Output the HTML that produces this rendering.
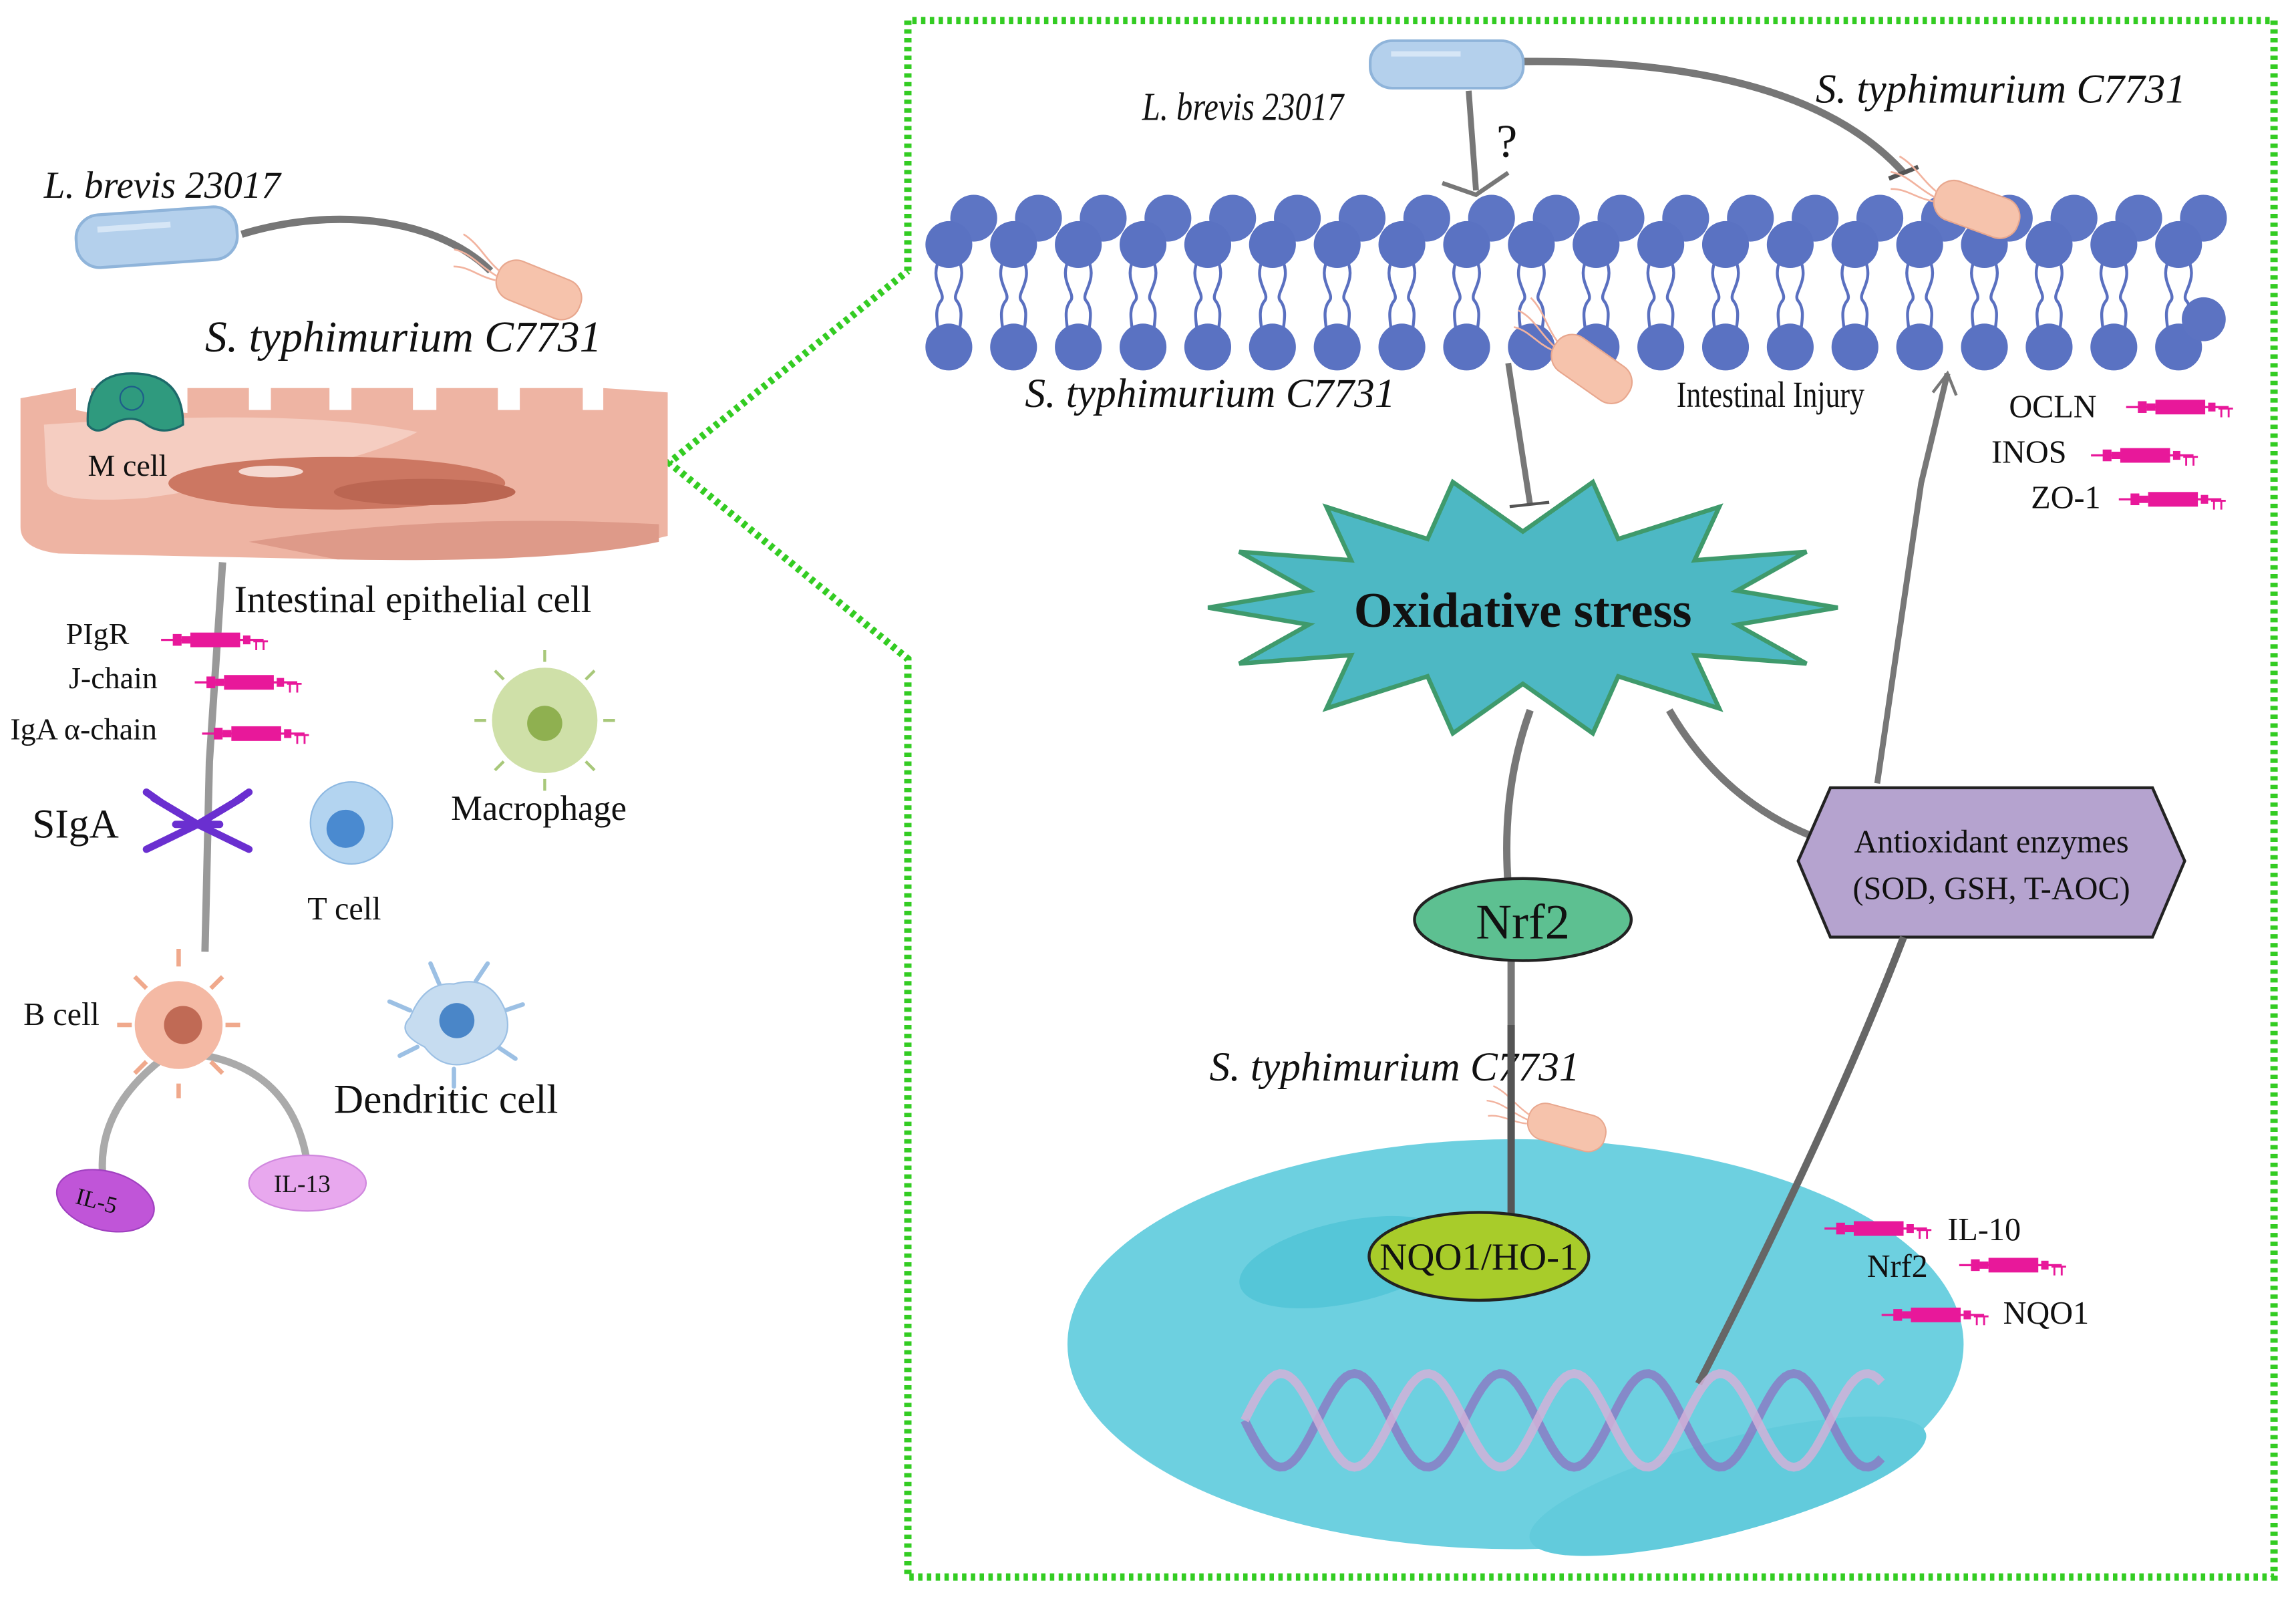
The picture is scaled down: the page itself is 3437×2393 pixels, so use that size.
<!DOCTYPE html>
<html><head><meta charset="utf-8"><style>
html,body{margin:0;padding:0;background:#fff}
svg{display:block}
text{font-family:"Liberation Serif",serif;fill:#111}
.it{font-style:italic}
</style></head><body>
<svg id="s" width="3437" height="2393" viewBox="0 0 1568 1092" preserveAspectRatio="none" xmlns="http://www.w3.org/2000/svg">
<defs>
<g id="gene">
<line x1="0" y1="0" x2="70" y2="0" stroke="#e8189a" stroke-width="1.5"/>
<rect x="8" y="-4" width="6" height="8" fill="#e8189a"/>
<rect x="14" y="-2.5" width="6" height="5" fill="#e8189a"/>
<rect x="20" y="-5" width="34" height="10" fill="#e8189a"/>
<rect x="56" y="-3" width="5" height="6" fill="#e8189a"/>
<path d="M63 1 h10 M65 1 v6 M70 1 v6" stroke="#e8189a" stroke-width="1.3" fill="none"/>
</g>
<g id="salm">
<rect x="-30" y="-14" width="60" height="28" rx="13" fill="#f6c3ac" stroke="#e8a78e" stroke-width="1"/>
<path d="M-30 -2 c-12 -4 -20 -12 -32 -14 M-30 2 c-14 -2 -22 -8 -34 -6 M-30 5 c-12 2 -20 -2 -30 2" stroke="#f2b39f" stroke-width="1.2" fill="none"/>
</g>
<g id="lbre">
<rect x="-55" y="-18" width="110" height="36" rx="16" fill="#b4d0ec" stroke="#8fb4da" stroke-width="2"/>
<rect x="-40" y="-10" width="50" height="4" fill="#d6e6f6"/>
</g>
</defs>

<path d="M620 185 L620 14 L1553 14 L1553 1077 L620 1077 L620 450 L457 316 L620 185" fill="none" stroke="#33cc22" stroke-width="5" stroke-dasharray="3 3"/>

<text x="30" y="135" class="it" font-size="26">L. brevis 23017</text>
<path d="M165 160 C230 140 300 150 335 185" stroke="#777" stroke-width="5" fill="none"/>
<use href="#lbre" transform="translate(107,162) rotate(-4)"/>
<use href="#salm" transform="translate(368,198) rotate(22)"/>
<text x="140" y="240" class="it" font-size="30">S. typhimurium C7731</text>

<path d="M14 272 L52 265 L52 280 L62 282 L62 265 L100 265 L100 280 L128 282 L128 265 L170 265 L170 280 L185 280 L185 265 L225 265 L225 280 L240 280 L240 265 L282 265 L282 280 L298 280 L298 265 L340 265 L340 280 L355 280 L355 265 L398 265 L398 280 L412 280 L412 265 L456 268 L456 366 Q380 385 230 382 L40 378 Q14 375 14 360 Z" fill="#eeb4a3"/>
<path d="M30 290 Q200 278 285 295 Q240 320 100 340 Q35 345 32 330 Z" fill="#f5cdc1"/>
<path d="M170 370 Q300 350 450 358 L450 370 Q380 385 230 382 Z" fill="#de9a89"/>
<ellipse cx="230" cy="330" rx="115" ry="18" fill="#cc7762"/>
<ellipse cx="290" cy="336" rx="62" ry="9" fill="#bb6652"/>
<ellipse cx="185" cy="322" rx="22" ry="4" fill="#f5d8d0"/>
<path d="M60 290 Q58 255 90 255 Q125 255 125 290 Q112 298 100 290 Q90 282 76 290 Q66 298 60 290 Z" fill="#2f9a7e" stroke="#1d6a6a" stroke-width="1.5"/>
<circle cx="90" cy="272" r="8" fill="#2f9a7e" stroke="#1d5d8a" stroke-width="1"/>
<text x="60" y="325" font-size="21">M cell</text>

<path d="M152 384 L143 520 L140 650" stroke="#999" stroke-width="5" fill="none"/>
<text x="160" y="418" font-size="26">Intestinal epithelial cell</text>
<text x="45" y="440" font-size="21">PIgR</text>
<use href="#gene" transform="translate(110,437)"/>
<text x="47" y="470" font-size="21">J-chain</text>
<use href="#gene" transform="translate(133,466)"/>
<text x="7" y="505" font-size="21">IgA α-chain</text>
<use href="#gene" transform="translate(138,501)"/>

<text x="22" y="572" font-size="28">SIgA</text>
<g stroke="#6a2fd0" stroke-width="5" stroke-linecap="round" fill="none">
<path d="M105 545 L135 563 L165 545 M100 580 L135 563 L170 580 M110 548 L100 541 M160 548 L170 541 M120 563 H150"/>
</g>
<circle cx="240" cy="562" r="28" fill="#b3d4f0" stroke="#8eb9e2"/>
<circle cx="236" cy="566" r="13" fill="#4a8ad0"/>
<text x="210" y="628" font-size="22">T cell</text>

<g stroke="#a8c87a" stroke-width="2">
<path d="M372 452 v-8 M372 532 v8 M332 492 h-8 M412 492 h8 M344 464 l-6 -6 M400 464 l6 -6 M344 520 l-6 6 M400 520 l6 6"/>
</g>
<circle cx="372" cy="492" r="36" fill="#cfe0a8"/>
<circle cx="372" cy="494" r="12" fill="#8fb050"/>
<text x="308" y="560" font-size="24">Macrophage</text>

<path d="M115 720 Q60 760 72 815 M135 720 Q200 730 210 795" stroke="#aaa" stroke-width="5" fill="none"/>
<g stroke="#f0a98c" stroke-width="3"><path d="M122 660 v-12 M122 740 v10 M90 700 h-10 M154 700 h10 M100 675 l-8 -8 M144 675 l8 -8 M100 725 l-8 8 M144 725 l8 8"/></g>
<circle cx="122" cy="700" r="30" fill="#f4b9a4"/>
<circle cx="125" cy="700" r="13" fill="#c06a55"/>
<text x="16" y="700" font-size="22">B cell</text>

<g stroke="#9cc0e4" stroke-width="3" stroke-linecap="round"><path d="M280 690 l-14 -6 M300 672 l-6 -14 M325 670 l8 -12 M345 690 l12 -4 M340 715 l12 8 M310 730 l0 12 M285 715 l-12 6"/></g>
<path d="M280 695 Q290 670 310 672 Q335 665 345 690 Q352 712 330 722 Q305 735 290 715 Q270 705 280 695 Z" fill="#c6dcf0" stroke="#9cc0e4"/>
<circle cx="312" cy="697" r="12" fill="#4a86c8"/>
<text x="228" y="760" font-size="28">Dendritic cell</text>

<ellipse cx="72" cy="820" rx="34" ry="20" transform="rotate(15 72 820)" fill="#c055d8" stroke="#a040c0"/>
<text x="52" y="827" font-size="16" transform="rotate(15 72 820)">IL-5</text>
<ellipse cx="210" cy="808" rx="40" ry="19" fill="#e8a8ee" stroke="#d088de"/>
<text x="187" y="814" font-size="17">IL-13</text>

<path d="M1003 62 L1008 130" stroke="#777" stroke-width="4"/>
<path d="M985 125 L1008 133 L1030 118" stroke="#777" stroke-width="3" fill="none"/>
<text x="1022" y="107" font-size="32" font-family="Liberation Sans">?</text>
<path d="M1040 42 Q1230 40 1300 118" stroke="#777" stroke-width="5" fill="none"/>
<path d="M1290 122 L1310 114" stroke="#555" stroke-width="3"/>
<use href="#lbre" transform="translate(988,44) scale(0.95,0.9)"/>
<text x="780" y="82" class="it" font-size="27" transform="translate(780,82) scale(0.82,1) translate(-780,-82)">L. brevis 23017</text>
<text x="1240" y="70" class="it" font-size="28">S. typhimurium C7731</text>

<g id="mem"></g>

<use href="#salm" transform="translate(1350,143) rotate(20)"/>
<use href="#salm" transform="translate(1087,252) rotate(35)"/>

<text x="700" y="278" class="it" font-size="28">S. typhimurium C7731</text>
<text x="1145" y="278" font-size="25" transform="translate(1145,278) scale(0.8,1) translate(-1145,-278)">Intestinal Injury</text>

<path d="M1030 248 L1045 345" stroke="#777" stroke-width="4"/>
<path d="M1031 346 L1058 343" stroke="#555" stroke-width="2"/>
<path d="M1282 535 L1312 330 L1330 255" stroke="#777" stroke-width="4" fill="none"/>
<path d="M1320 268 L1330 255 L1336 270" stroke="#777" stroke-width="2" fill="none"/>

<text x="1372" y="285" font-size="22">OCLN</text><use href="#gene" transform="translate(1452,278)"/>
<text x="1360" y="316" font-size="22">INOS</text><use href="#gene" transform="translate(1428,311)"/>
<text x="1387" y="347" font-size="22">ZO-1</text><use href="#gene" transform="translate(1447,341)"/>

<path d="M1045 485 Q1025 540 1030 605" stroke="#777" stroke-width="5" fill="none"/>
<path d="M1140 485 Q1175 545 1235 570" stroke="#777" stroke-width="5" fill="none"/>
<polygon id="star" fill="#4db8c4" stroke="#3f9a6c" stroke-width="3"/>
<text x="1040" y="428" font-size="34" font-weight="bold" text-anchor="middle">Oxidative stress</text>

<path d="M1032 655 L1032 835" stroke="#777" stroke-width="5"/>
<ellipse cx="1040" cy="628" rx="74" ry="28" fill="#5dc091" stroke="#222" stroke-width="2"/>
<text x="1040" y="641" font-size="34" text-anchor="middle">Nrf2</text>

<polygon points="1250,538 1470,538 1492,588 1470,640 1250,640 1228,588" fill="#b5a3cf" stroke="#222" stroke-width="2"/>
<text x="1360" y="582" font-size="22" text-anchor="middle">Antioxidant enzymes</text>
<text x="1360" y="614" font-size="22" text-anchor="middle">(SOD, GSH, T-AOC)</text>

<ellipse cx="1035" cy="918" rx="306" ry="140" fill="#6dd0e0"/>
<ellipse cx="920" cy="862" rx="75" ry="28" transform="rotate(-12 920 862)" fill="#55c6d8"/>
<ellipse cx="1180" cy="1015" rx="140" ry="32" transform="rotate(-15 1180 1015)" fill="#62cbdc"/>
<text x="826" y="738" class="it" font-size="28">S. typhimurium C7731</text>
<use href="#salm" transform="translate(1070,770) rotate(15) scale(0.9)"/>
<path d="M1032 700 L1032 835" stroke="#555" stroke-width="5"/>
<path d="M1300 640 Q1250 770 1160 945" stroke="#666" stroke-width="5" fill="none"/>
<g id="dna"></g>
<ellipse cx="1010" cy="858" rx="75" ry="30" fill="#a8cc2a" stroke="#222" stroke-width="2"/>
<text x="1010" y="867" font-size="26" text-anchor="middle">NQO1/HO-1</text>

<use href="#gene" transform="translate(1246,839)"/><text x="1330" y="847" font-size="22">IL-10</text>
<text x="1275" y="872" font-size="22">Nrf2</text><use href="#gene" transform="translate(1338,864)"/>
<use href="#gene" transform="translate(1285,898)"/><text x="1368" y="904" font-size="22">NQO1</text>
</svg>
<script>
var NS="http://www.w3.org/2000/svg";
function el(p,t,a){var e=document.createElementNS(NS,t);for(var k in a)e.setAttribute(k,a[k]);p.appendChild(e);return e;}
var m=document.getElementById("mem"),S=44.2;
for(var i=0;i<20;i++){
 var x=648+i*S;
 el(m,"path",{d:"M"+(x-7)+" 178 C"+(x-13)+" 192 "+(x-2)+" 200 "+(x-5)+" 205 C"+(x-11)+" 212 "+(x-7)+" 222 "+(x-7)+" 230 M"+(x+7)+" 178 C"+(x+13)+" 192 "+(x+2)+" 200 "+(x+5)+" 205 C"+(x+11)+" 212 "+(x+7)+" 222 "+(x+7)+" 230",stroke:"#5a70c0","stroke-width":2,fill:"none"});
}
for(var i=0;i<20;i++){el(m,"circle",{cx:665+i*S,cy:149,r:16,fill:"#5d75c4"});}
for(var i=0;i<20;i++){el(m,"circle",{cx:648+i*S,cy:167,r:16,fill:"#5a72c2"});}
for(var i=0;i<20;i++){el(m,"circle",{cx:648+i*S,cy:237,r:16,fill:"#5a72c2"});}
el(m,"circle",{cx:1505,cy:218,r:15,fill:"#5c73c2"});
var pts=[],n=14;
for(var k=0;k<2*n;k++){var a=Math.PI*k/n;var o=k%2==0;var rx=o?215:150,ry=o?88:52;pts.push((1040+rx*Math.cos(a)).toFixed(1)+","+(415+ry*Math.sin(a)).toFixed(1));}
document.getElementById("star").setAttribute("points",pts.join(" "));
var d=document.getElementById("dna"),p1="",p2="";
for(var x=850;x<=1285;x+=3){var y1=970+32*Math.sin((x-850)/50*Math.PI),y2=970-32*Math.sin((x-850)/50*Math.PI);p1+=(x==850?"M":"L")+x+" "+y1.toFixed(1);p2+=(x==850?"M":"L")+x+" "+y2.toFixed(1);}
el(d,"path",{d:p1,stroke:"#8a7cc4","stroke-width":6,fill:"none",opacity:0.85});
el(d,"path",{d:p2,stroke:"#d2b2d8","stroke-width":6,fill:"none",opacity:0.85});
</script>
</body></html>
